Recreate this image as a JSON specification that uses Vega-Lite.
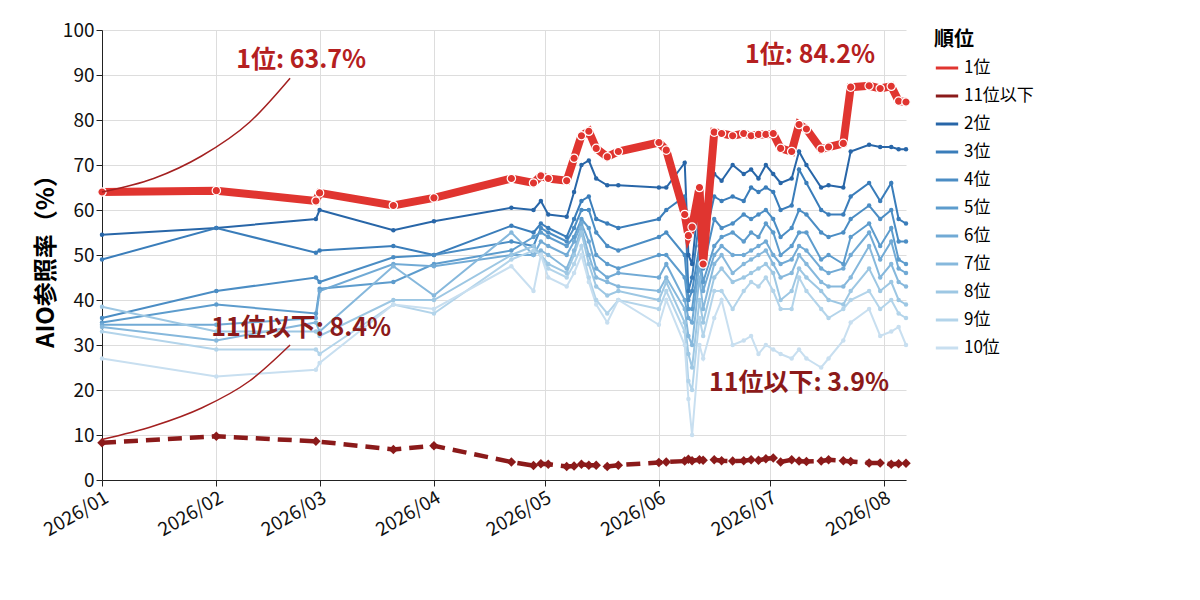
{
  "$schema": "https://vega.github.io/schema/vega-lite/v6.json",
  "width": 804,
  "height": 450,
  "autosize": {"type": "none"},
  "padding": {"left": 102, "top": 30, "right": 294, "bottom": 120},
  "background": "white",
  "config": {
    "font": "Noto Sans CJK JP",
    "view": {"stroke": null},
    "axis": {"labelFontSize": 19, "titleFontSize": 24, "labelColor": "#111", "domainColor": "#222", "tickColor": "#222", "gridColor": "#dddddd"},
    "legend": {"titleFontSize": 20, "labelFontSize": 17, "symbolStrokeWidth": 3, "rowPadding": 7, "offset": 12}
  },
  "datasets": {
    "main": [
      {"date": "2026-01-01", "1位": 64, "2位": 54.5, "3位": 49, "4位": 36, "5位": 35, "6位": 34.5, "7位": 34, "8位": 38.5, "9位": 33, "10位": 27, "11位以下": 8.3},
      {"date": "2026-02-01", "1位": 64.3, "2位": 56, "3位": 56, "4位": 42, "5位": 39, "6位": 34.5, "7位": 31, "8位": 33, "9位": 29, "10位": 23, "11位以下": 9.7},
      {"date": "2026-02-28", "1位": 62, "2位": 58, "3位": 50.5, "4位": 45, "5位": 37, "6位": 36, "7位": 35, "8位": 33, "9位": 29, "10位": 24.5, "11位以下": 8.6},
      {"date": "2026-03-01", "1位": 63.8, "2位": 60, "3位": 51, "4位": 44, "5位": 42.5, "6位": 42, "7位": 33, "8位": 32, "9位": 28, "10位": 26, "11位以下": null},
      {"date": "2026-03-21", "1位": 61, "2位": 55.5, "3位": 52, "4位": 49.5, "5位": 44, "6位": 48, "7位": 47.5, "8位": 40, "9位": 39, "10位": 39, "11位以下": 6.8},
      {"date": "2026-04-01", "1位": 62.7, "2位": 57.5, "3位": 50, "4位": 50, "5位": 48, "6位": 47.5, "7位": 41, "8位": 40, "9位": 37, "10位": 38, "11位以下": 7.6},
      {"date": "2026-04-22", "1位": 67, "2位": 60.5, "3位": 56.5, "4位": 53, "5位": 51, "6位": 50, "7位": 55, "8位": 50, "9位": 49, "10位": 47.5, "11位以下": 4},
      {"date": "2026-04-28", "1位": 66, "2位": 60, "3位": 55, "4位": 52, "5位": 54, "6位": 50, "7位": 50, "8位": 52, "9位": 51, "10位": 42, "11位以下": 3.2},
      {"date": "2026-04-30", "1位": 67.6, "2位": 62, "3位": 57, "4位": 56, "5位": 55, "6位": 53, "7位": 51, "8位": 50, "9位": 50, "10位": 50, "11位以下": 3.6},
      {"date": "2026-05-02", "1位": 67, "2位": 59, "3位": 56, "4位": 55, "5位": 54, "6位": 52, "7位": 50, "8位": 48, "9位": 47, "10位": 45, "11位以下": 3.5},
      {"date": "2026-05-07", "1位": 66.5, "2位": 58.5, "3位": 54, "4位": 53, "5位": 52, "6位": 50, "7位": 47, "8位": 46, "9位": 45, "10位": 43, "11位以下": 3},
      {"date": "2026-05-09", "1位": 71.5, "2位": 64, "3位": 58, "4位": 56, "5位": 54, "6位": 53, "7位": 51, "8位": 50, "9位": 48, "10位": 46, "11位以下": 3.1},
      {"date": "2026-05-11", "1位": 76.5, "2位": 70, "3位": 62, "4位": 60, "5位": 58, "6位": 57, "7位": 56, "8位": 55, "9位": 52, "10位": 50, "11位以下": 3.5},
      {"date": "2026-05-13", "1位": 77.5, "2位": 71, "3位": 63, "4位": 60, "5位": 56, "6位": 53, "7位": 50, "8位": 48, "9位": 45, "10位": 44, "11位以下": 3.3},
      {"date": "2026-05-15", "1位": 73.7, "2位": 67, "3位": 58, "4位": 55, "5位": 50, "6位": 47, "7位": 45, "8位": 43, "9位": 40, "10位": 39, "11位以下": 3.3},
      {"date": "2026-05-18", "1位": 71.8, "2位": 65.5, "3位": 57, "4位": 52, "5位": 48, "6位": 45, "7位": 44, "8位": 41, "9位": 37, "10位": 35, "11位以下": 3.0},
      {"date": "2026-05-21", "1位": 73, "2位": 65.5, "3位": 56, "4位": 51, "5位": 47, "6位": 46, "7位": 43, "8位": 42, "9位": 40, "10位": 40, "11位以下": 3.3},
      {"date": "2026-06-01", "1位": 75, "2位": 65, "3位": 58, "4位": 54, "5位": 50, "6位": 45, "7位": 42, "8位": 40, "9位": 38, "10位": 34.5, "11位以下": 3.9},
      {"date": "2026-06-03", "1位": 73.3, "2位": 65, "3位": 60, "4位": 55, "5位": 50, "6位": 48, "7位": 45, "8位": 44, "9位": 42, "10位": 40, "11位以下": 4},
      {"date": "2026-06-08", "1位": 59, "2位": 70.5, "3位": 63, "4位": 50, "5位": 45, "6位": 40, "7位": 38, "8位": 35, "9位": 33, "10位": 30, "11位以下": 4.2},
      {"date": "2026-06-09", "1位": 54.3, "2位": 50, "3位": 42, "4位": 40, "5位": 38, "6位": 36, "7位": 32, "8位": 28, "9位": 22, "10位": 18, "11位以下": 4.6},
      {"date": "2026-06-10", "1位": 56.2, "2位": 48, "3位": 45, "4位": 42, "5位": 38, "6位": 35, "7位": 30, "8位": 25, "9位": 20, "10位": 10, "11位以下": 4.3},
      {"date": "2026-06-12", "1位": 65, "2位": 64, "3位": 58, "4位": 52, "5位": 50, "6位": 48, "7位": 45, "8位": 40, "9位": 36, "10位": 30, "11位以下": 4.5},
      {"date": "2026-06-13", "1位": 48, "2位": 58, "3位": 52, "4位": 47, "5位": 44, "6位": 42, "7位": 38, "8位": 35, "9位": 32, "10位": 27, "11位以下": 4.4},
      {"date": "2026-06-16", "1位": 77.3, "2位": 68, "3位": 63, "4位": 58, "5位": 52, "6位": 50, "7位": 48, "8位": 45, "9位": 42, "10位": 36, "11位以下": 4.5},
      {"date": "2026-06-18", "1位": 77, "2位": 66.5, "3位": 62, "4位": 56, "5位": 54, "6位": 52, "7位": 50, "8位": 47, "9位": 42, "10位": 40, "11位以下": 4.3},
      {"date": "2026-06-21", "1位": 76.5, "2位": 70, "3位": 63, "4位": 57, "5位": 55, "6位": 50, "7位": 46, "8位": 44, "9位": 38, "10位": 30, "11位以下": 4.2},
      {"date": "2026-06-24", "1位": 77, "2位": 68, "3位": 62, "4位": 59, "5位": 53, "6位": 50, "7位": 48, "8位": 45, "9位": 42, "10位": 31, "11位以下": 4.3},
      {"date": "2026-06-26", "1位": 76.5, "2位": 69, "3位": 65, "4位": 58, "5位": 55, "6位": 51, "7位": 49, "8位": 46, "9位": 44, "10位": 32, "11位以下": 4.5},
      {"date": "2026-06-28", "1位": 76.8, "2位": 67, "3位": 64, "4位": 59, "5位": 54, "6位": 52, "7位": 50, "8位": 47, "9位": 43, "10位": 28, "11位以下": 4.4},
      {"date": "2026-06-30", "1位": 76.8, "2位": 70, "3位": 65, "4位": 60, "5位": 57, "6位": 53, "7位": 51, "8位": 48, "9位": 45, "10位": 30, "11位以下": 4.7},
      {"date": "2026-07-02", "1位": 77, "2位": 68, "3位": 64, "4位": 58, "5位": 55, "6位": 50, "7位": 48, "8位": 46, "9位": 42, "10位": 29, "11位以下": 4.9},
      {"date": "2026-07-04", "1位": 73.7, "2位": 66, "3位": 60, "4位": 54, "5位": 50, "6位": 48, "7位": 45, "8位": 40, "9位": 38, "10位": 28, "11位以下": 4},
      {"date": "2026-07-07", "1位": 73, "2位": 67, "3位": 61, "4位": 56, "5位": 52, "6位": 49, "7位": 46, "8位": 42, "9位": 38, "10位": 27, "11位以下": 4.5},
      {"date": "2026-07-09", "1位": 79, "2位": 73, "3位": 69, "4位": 60, "5位": 55, "6位": 52, "7位": 50, "8位": 47, "9位": 45, "10位": 29, "11位以下": 4.2},
      {"date": "2026-07-11", "1位": 78, "2位": 70, "3位": 66, "4位": 59, "5位": 55, "6位": 51, "7位": 48, "8位": 45, "9位": 42, "10位": 27, "11位以下": 4.1},
      {"date": "2026-07-15", "1位": 73.5, "2位": 65, "3位": 60, "4位": 55, "5位": 49, "6位": 47, "7位": 44, "8位": 42, "9位": 38, "10位": 25, "11位以下": 4.2},
      {"date": "2026-07-17", "1位": 74, "2位": 65.5, "3位": 59, "4位": 54, "5位": 50, "6位": 46, "7位": 43, "8位": 40, "9位": 36, "10位": 27, "11位以下": 4.5},
      {"date": "2026-07-21", "1位": 74.8, "2位": 65, "3位": 59, "4位": 55, "5位": 48, "6位": 47, "7位": 43, "8位": 39, "9位": 38, "10位": 31, "11位以下": 4.3},
      {"date": "2026-07-23", "1位": 87.3, "2位": 73, "3位": 63, "4位": 58, "5位": 54, "6位": 50, "7位": 45, "8位": 42, "9位": 40, "10位": 35, "11位以下": 4.1},
      {"date": "2026-07-28", "1位": 87.6, "2位": 74.5, "3位": 66, "4位": 61, "5位": 57, "6位": 55, "7位": 52, "8位": 47, "9位": 42, "10位": 38, "11位以下": 3.8},
      {"date": "2026-07-31", "1位": 87, "2位": 74, "3位": 62, "4位": 58, "5位": 52, "6位": 49, "7位": 45, "8位": 42, "9位": 38, "10位": 32, "11位以下": 3.8},
      {"date": "2026-08-03", "1位": 87.5, "2位": 74, "3位": 66, "4位": 60, "5位": 56, "6位": 53, "7位": 48, "8位": 44, "9位": 40, "10位": 33, "11位以下": 3.5},
      {"date": "2026-08-05", "1位": 84.2, "2位": 73.5, "3位": 58, "4位": 53, "5位": 49, "6位": 47, "7位": 44, "8位": 40, "9位": 37, "10位": 34, "11位以下": 3.6},
      {"date": "2026-08-07", "1位": 84, "2位": 73.5, "3位": 57, "4位": 53, "5位": 48, "6位": 46, "7位": 43, "8位": 39, "9位": 36, "10位": 30, "11位以下": 3.7}
    ],
    "labels": [
      {"date": "2026-02-24", "value": 93.3, "text": "1位: 63.7%", "color": "top"},
      {"date": "2026-07-12", "value": 94.4, "text": "1位: 84.2%", "color": "top"},
      {"date": "2026-02-24", "value": 33.8, "text": "11位以下: 8.4%", "color": "low"},
      {"date": "2026-07-09", "value": 21.5, "text": "11位以下: 3.9%", "color": "low"}
    ],
    "arrows": [
      {"date": "2026-01-01", "value": 64, "arrow": "a"},
      {"date": "2026-01-15", "value": 67, "arrow": "a"},
      {"date": "2026-01-28", "value": 72, "arrow": "a"},
      {"date": "2026-02-10", "value": 79.5, "arrow": "a"},
      {"date": "2026-02-21", "value": 89.3, "arrow": "a"},
      {"date": "2026-01-01", "value": 9, "arrow": "b"},
      {"date": "2026-01-15", "value": 12, "arrow": "b"},
      {"date": "2026-01-28", "value": 16, "arrow": "b"},
      {"date": "2026-02-10", "value": 22, "arrow": "b"},
      {"date": "2026-02-21", "value": 30, "arrow": "b"}
    ]
  },
  "data": {"name": "main"},
  "transform": [
    {"fold": ["1位", "11位以下", "2位", "3位", "4位", "5位", "6位", "7位", "8位", "9位", "10位"], "as": ["series", "value"]},
    {"filter": "isValid(datum.value)"}
  ],
  "encoding": {
    "x": {
      "field": "date", "type": "temporal",
      "scale": {"domain": ["2026-01-01", "2026-08-07"]},
      "axis": {"format": "%Y/%m", "tickCount": {"interval": "month", "step": 1}, "labelAngle": -30, "labelAlign": "right", "title": null, "grid": true, "tickSize": 6}
    },
    "y": {
      "field": "value", "type": "quantitative",
      "scale": {"domain": [0, 100]},
      "axis": {"tickCount": 10, "title": "AIO参照率（%）", "titleFontWeight": "bold", "tickSize": 6}
    }
  },
  "layer": [
    {
      "transform": [{"filter": "datum.series != '1位' && datum.series != '11位以下'"}],
      "mark": {"type": "line", "strokeWidth": 2},
      "encoding": {
        "detail": {"field": "series"},
        "color": {"field": "series", "type": "nominal", "title": "順位",
          "scale": {"domain": ["1位", "11位以下", "2位", "3位", "4位", "5位", "6位", "7位", "8位", "9位", "10位"],
            "range": ["#e03530", "#8b1a1a", "#2866a8", "#3a7dba", "#4b8dc4", "#5d9ccd", "#71aad5", "#86b8dc", "#9dc7e3", "#b3d4ea", "#c8dff0"]},
          "legend": {"symbolType": "stroke", "titleFontWeight": "bold", "symbolSize": 500}}
      }
    },
    {
      "transform": [{"filter": "datum.series != '1位' && datum.series != '11位以下'"}],
      "mark": {"type": "point", "filled": true, "size": 20, "opacity": 1},
      "encoding": {"color": {"field": "series", "type": "nominal"}}
    },
    {
      "transform": [{"filter": "datum.series == '11位以下'"}],
      "mark": {"type": "line", "strokeWidth": 4.5, "strokeDash": [14, 8]},
      "encoding": {"color": {"field": "series", "type": "nominal"}}
    },
    {
      "transform": [{"filter": "datum.series == '11位以下'"}],
      "mark": {"type": "point", "shape": "diamond", "filled": true, "size": 90, "opacity": 1},
      "encoding": {"color": {"field": "series", "type": "nominal"}}
    },
    {
      "transform": [{"filter": "datum.series == '1位'"}],
      "mark": {"type": "line", "strokeWidth": 8},
      "encoding": {"color": {"field": "series", "type": "nominal"}}
    },
    {
      "transform": [{"filter": "datum.series == '1位'"}],
      "mark": {"type": "point", "filled": true, "size": 70, "stroke": "white", "strokeWidth": 1.2, "opacity": 1, "color": "#e03530"}
    },
    {
      "data": {"name": "arrows"},
      "transform": [],
      "mark": {"type": "line", "strokeWidth": 1.5, "interpolate": "monotone"},
      "encoding": {
        "detail": {"field": "arrow"},
        "color": {"value": "#a32020"}
      }
    },
    {
      "data": {"name": "labels"},
      "transform": [],
      "mark": {"type": "text", "fontSize": 25, "fontWeight": "bold", "align": "center"},
      "encoding": {
        "text": {"field": "text"},
        "color": {"condition": {"test": "datum.color == 'top'", "value": "#b52020"}, "value": "#8b1a1a"}
      }
    }
  ]
}
